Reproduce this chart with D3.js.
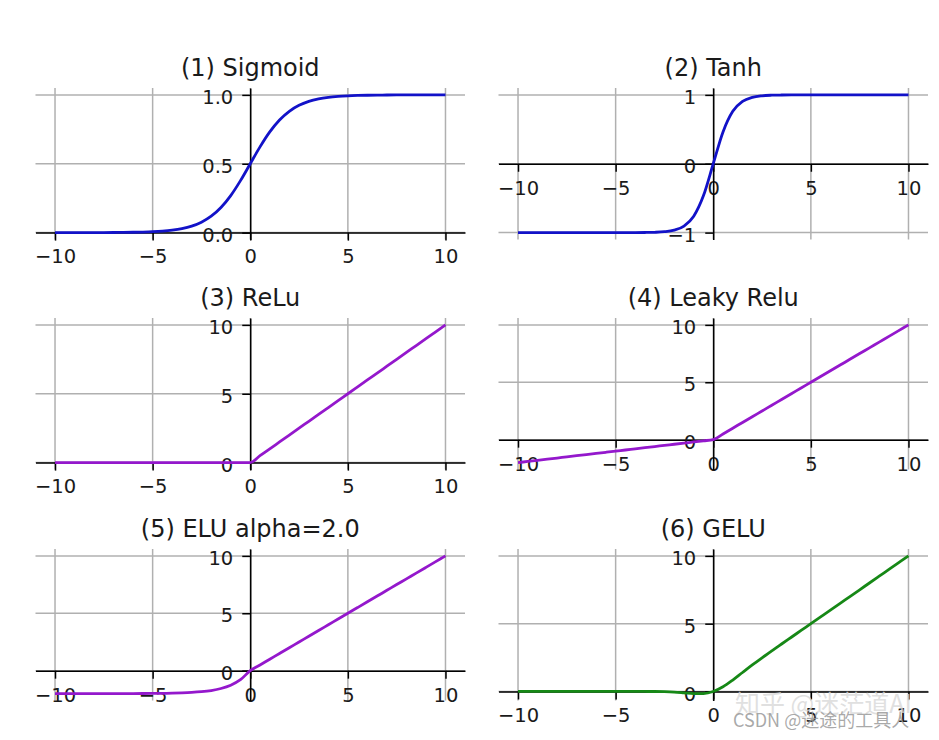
<!DOCTYPE html>
<html><head><meta charset="utf-8">
<script src="https://cdn.jsdelivr.net/npm/d3@7"></script>
<style>body{margin:0;background:#fff}svg{display:block}</style>
</head><body><svg id="c" width="939" height="740"></svg>
<script>
const xValues = [-10,-9.5,-9,-8.5,-8,-7.5,-7,-6.5,-6,-5.5,-5,-4.5,-4,-3.5,-3,-2.5,-2,-1.5,-1,-0.5,0,0.5,1,1.5,2,2.5,3,3.5,4,4.5,5,5.5,6,6.5,7,7.5,8,8.5,9,9.5,10];

const sigmoidValues = [0.0000,0.0001,0.0001,0.0002,0.0003,0.0006,0.0009,0.0015,0.0025,0.0041,0.0067,0.0110,0.0180,0.0293,0.0474,0.0759,0.1192,0.1824,0.2689,0.3775,0.5000,0.6225,0.7311,0.8176,0.8808,0.9241,0.9526,0.9707,0.9820,0.9890,0.9933,0.9959,0.9975,0.9985,0.9991,0.9994,0.9997,0.9998,0.9999,0.9999,1.0000];

const tanhValues = [-1.0000,-1.0000,-1.0000,-1.0000,-1.0000,-1.0000,-1.0000,-1.0000,-1.0000,-1.0000,-0.9999,-0.9998,-0.9993,-0.9982,-0.9951,-0.9866,-0.9640,-0.9051,-0.7616,-0.4621,0,0.4621,0.7616,0.9051,0.9640,0.9866,0.9951,0.9982,0.9993,0.9998,0.9999,1.0000,1.0000,1.0000,1.0000,1.0000,1.0000,1.0000,1.0000,1.0000,1.0000];

const reluValues = [0,0,0,0,0,0,0,0,0,0,0,0,0,0,0,0,0,0,0,0,0,0.5,1,1.5,2,2.5,3,3.5,4,4.5,5,5.5,6,6.5,7,7.5,8,8.5,9,9.5,10];

const leakyReluValues = [-2.0,-1.9,-1.8,-1.7,-1.6,-1.5,-1.4,-1.3,-1.2,-1.1,-1.0,-0.9,-0.8,-0.7,-0.6,-0.5,-0.4,-0.3,-0.2,-0.1,0,0.5,1,1.5,2,2.5,3,3.5,4,4.5,5,5.5,6,6.5,7,7.5,8,8.5,9,9.5,10];

const eluValues = [-1.9999,-1.9998,-1.9998,-1.9996,-1.9993,-1.9989,-1.9982,-1.9970,-1.9950,-1.9918,-1.9865,-1.9778,-1.9634,-1.9396,-1.9004,-1.8358,-1.7293,-1.5537,-1.2642,-0.7869,0,0.5,1,1.5,2,2.5,3,3.5,4,4.5,5,5.5,6,6.5,7,7.5,8,8.5,9,9.5,10];

const geluValues = [0,0,0,0,0,0,0,0,0,0,0,0,-0.0001,-0.0008,-0.0040,-0.0155,-0.0455,-0.1002,-0.1587,-0.1543,0,0.3457,0.8413,1.3998,1.9545,2.4845,2.9960,3.4992,3.9999,4.5,5,5.5,6,6.5,7,7.5,8,8.5,9,9.5,10];

const titles = ["(1) Sigmoid","(2) Tanh","(3) ReLu","(4) Leaky Relu","(5) ELU alpha=2.0","(6) GELU"];
const lineColors = ["#1212c8","#1212c8","#9418cc","#9418cc","#9418cc","#168816"];
const xTicks = [-10,-5,0,5,10];
const xTickLabels = ["\u221210","\u22125","0","5","10"];
const yTicksList = [[0,0.5,1],[-1,0,1],[0,5,10],[0,5,10],[0,5,10],[0,5,10]];
const yTickLabelsList = [["0.0","0.5","1.0"],["\u22121","0","1"],["0","5","10"],["0","5","10"],["0","5","10"],["0","5","10"]];
const seriesList = [sigmoidValues,tanhValues,reluValues,leakyReluValues,eluValues,geluValues];

const svg = d3.select("#c");
const W = 429.5, H = 151.5;
const colX = [35.5, 498.5], rowY = [88, 318, 549];
const FONT = "'DejaVu Sans', sans-serif";

seriesList.forEach((vals, i) => {
  const left = colX[i % 2], top = rowY[Math.floor(i / 2)];
  const [xmn, xmx] = d3.extent(xValues); const xm = (xmx - xmn) * 0.05;
  const x = d3.scaleLinear().domain([xmn - xm, xmx + xm]).range([left, left + W]);
  const [mn, mx] = d3.extent(vals); const m = (mx - mn) * 0.05;
  const y = d3.scaleLinear().domain([mn - m, mx + m]).range([top + H, top]);
  const yTicks = yTicksList[i], yLabels = yTickLabelsList[i];
  const g = svg.append("g");

  // grid
  g.append("g").selectAll("line").data(xTicks).join("line")
    .attr("x1", d => x(d)).attr("x2", d => x(d)).attr("y1", top).attr("y2", top + H)
    .attr("stroke", "#b0b0b0").attr("stroke-width", 1.5);
  g.append("g").selectAll("line").data(yTicks).join("line")
    .attr("x1", left).attr("x2", left + W).attr("y1", d => y(d)).attr("y2", d => y(d))
    .attr("stroke", "#b0b0b0").attr("stroke-width", 1.5);

  // axes (spines through zero)
  const ax = g.append("g").attr("transform", `translate(0,${y(0)})`)
    .call(d3.axisBottom(x).tickValues(xTicks).tickFormat((d, j) => xTickLabels[j]).tickSize(8).tickSizeOuter(0).tickPadding(9));
  const ay = g.append("g").attr("transform", `translate(${x(0)},0)`)
    .call(d3.axisLeft(y).tickValues(yTicks).tickFormat((d, j) => yLabels[j]).tickSize(8).tickSizeOuter(0).tickPadding(9));
  [ax, ay].forEach(a => {
    a.attr("font-family", FONT).attr("font-size", 19.5);
    a.selectAll("path.domain").attr("stroke", "#000").attr("stroke-width", 1.5);
    a.selectAll(".tick line").attr("stroke", "#000").attr("stroke-width", 1.5);
    a.selectAll(".tick text").attr("fill", "#1a1a1a");
  });
  ay.selectAll(".tick text").attr("dy", "0.44em");

  // curve
  const line = d3.line().x((d, j) => x(xValues[j])).y(d => y(d)).curve(d3.curveMonotoneX);
  g.append("path").datum(vals).attr("d", line).attr("fill", "none")
    .attr("stroke", lineColors[i]).attr("stroke-width", 2.8).attr("stroke-linejoin", "round");

  // title
  g.append("text").attr("x", left + W / 2).attr("y", top - 12).attr("text-anchor", "middle")
    .attr("font-family", FONT).attr("font-size", 24).attr("fill", "#1a1a1a").text(titles[i]);
});

// watermarks
svg.append("text").attr("x", 735).attr("y", 713).attr("font-family", "'Noto Sans CJK SC', sans-serif")
  .attr("font-size", 25).attr("fill", "#d8d8d8").attr("fill-opacity", 0.8).text("知乎 @迷茫道AI");
svg.append("text").attr("x", 733).attr("y", 727).attr("font-family", "'Noto Sans CJK SC', sans-serif")
  .attr("font-size", 18).attr("fill", "#9a9a9a").attr("fill-opacity", 0.85).text("CSDN @迷途的工具人");
</script></body></html>
